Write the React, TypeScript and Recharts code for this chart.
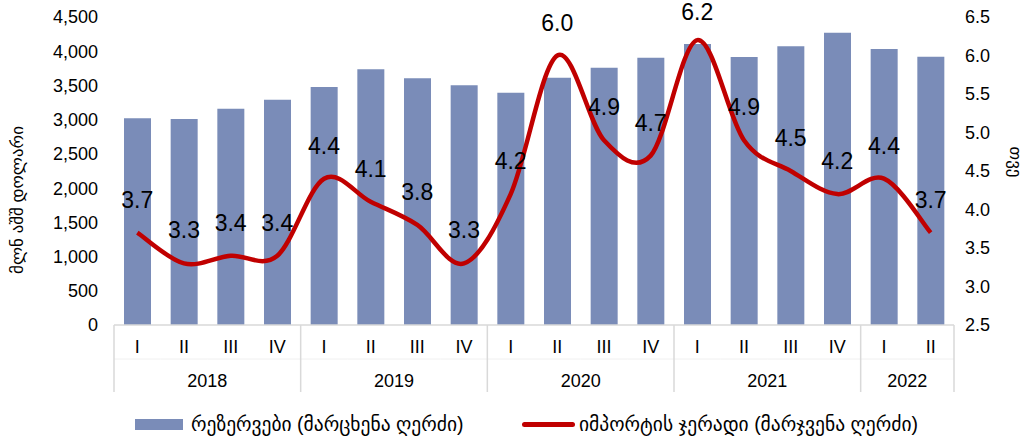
import React from 'react';
import { ComposedChart, Bar, Line, XAxis, YAxis, LabelList, Legend } from 'recharts';

const quarters = ['I', 'II', 'III', 'IV', 'I', 'II', 'III', 'IV', 'I', 'II', 'III', 'IV', 'I', 'II', 'III', 'IV', 'I', 'II'];
const years = ['2018', '2018', '2018', '2018', '2019', '2019', '2019', '2019', '2020', '2020', '2020', '2020', '2021', '2021', '2021', '2021', '2022', '2022'];
const reserves = [3020, 3010, 3160, 3292, 3478, 3736, 3604, 3502, 3394, 3614, 3760, 3906, 4106, 3916, 4072, 4271, 4033, 3920];
const importCover = [3.7, 3.3, 3.4, 3.4, 4.4, 4.1, 3.8, 3.3, 4.2, 6.0, 4.9, 4.7, 6.2, 4.9, 4.5, 4.2, 4.4, 3.7];
const leftTicks = [0, 500, 1000, 1500, 2000, 2500, 3000, 3500, 4000, 4500];
const rightTicks = [2.5, 3.0, 3.5, 4.0, 4.5, 5.0, 5.5, 6.0, 6.5];
const reservesName = 'რეზერვები (მარცხენა ღერძი)';
const importName = 'იმპორტის ჯერადი (მარჯვენა ღერძი)';
const leftAxisTitle = 'მლნ აშშ დოლარი';
const rightAxisTitle = 'თვე';

const data = quarters.map((q, i) => ({ q, year: years[i], reserves: reserves[i], imports: importCover[i] }));

const FONT = '"Liberation Sans", Arial, "DejaVu Sans", sans-serif';
const BAR_COLOR = '#7a8cb8';
const LINE_COLOR = '#c00000';
const GRID = '#d9d9d9';

const excelSmooth = (context: any) => {
  let pts: number[][] = [];
  return {
    areaStart() {},
    areaEnd() {},
    lineStart() {
      pts = [];
    },
    point(x: number, y: number) {
      pts.push([+x, +y]);
    },
    lineEnd() {
      const n = pts.length;
      if (!n) return;
      context.moveTo(pts[0][0], pts[0][1]);
      for (let i = 0; i < n - 1; i++) {
        const p0 = pts[Math.max(i - 1, 0)];
        const p1 = pts[i];
        const p2 = pts[i + 1];
        const p3 = pts[Math.min(i + 2, n - 1)];
        context.bezierCurveTo(
          p1[0] + (p2[0] - p0[0]) / 6,
          p1[1] + (p2[1] - p0[1]) / 6,
          p2[0] - (p3[0] - p1[0]) / 6,
          p2[1] - (p3[1] - p1[1]) / 6,
          p2[0],
          p2[1]
        );
      }
    },
  };
};

const renderTick = (props: any) => {
  const { x, y, payload } = props;
  const idx = payload?.index ?? props.index ?? 0;
  const half = payload?.offset ? payload.offset : 840 / 18 / 2;
  const yr = years[idx];
  const groupStart = years.indexOf(yr);
  const groupEnd = years.lastIndexOf(yr);
  const n = groupEnd - groupStart + 1;
  const pos = idx - groupStart;
  const mid = Math.floor((n - 1) / 2);
  const els: any[] = [];
  els.push(
    <text key="q" x={x} y={y + 28} textAnchor="middle" fontSize={18} fill="#000" fontFamily={FONT}>
      {quarters[idx]}
    </text>
  );
  els.push(<line key="h" x1={x - half} x2={x + half} y1={y + 34} y2={y + 34} stroke="#f0f0f0" strokeWidth={1} />);
  if (idx === groupStart) {
    els.push(<line key="s" x1={x - half} x2={x - half} y1={y} y2={y + 67} stroke={GRID} strokeWidth={1.5} />);
  }
  if (idx === years.length - 1) {
    els.push(<line key="e" x1={x + half} x2={x + half} y1={y} y2={y + 67} stroke={GRID} strokeWidth={1.5} />);
  }
  if (pos === mid) {
    const cx = x + ((n - 1) / 2 - mid) * 2 * half;
    els.push(
      <text key="y" x={cx} y={y + 62} textAnchor="middle" fontSize={18} fill="#000" fontFamily={FONT}>
        {yr}
      </text>
    );
  }
  return <g>{els}</g>;
};

const PointLabel = (props: any) => {
  const { x, y, width, value } = props;
  const cx = (x || 0) + (width || 0) / 2;
  const baseline = Math.max((y || 0) - 25, 20);
  return (
    <text x={cx} y={baseline} textAnchor="middle" fontSize={23} fill="#000" fontFamily={FONT}>
      {Number(value).toFixed(1)}
    </text>
  );
};

const LeftTitle = (props: any) => {
  const vb = props.viewBox || { x: 0 };
  const cx = (vb.x || 0) + 17;
  const cy = 200;
  return (
    <text x={cx} y={cy} transform={`rotate(-90 ${cx} ${cy})`} textAnchor="middle" dominantBaseline="central" fontSize={17} fill="#000" fontFamily={FONT}>
      {leftAxisTitle}
    </text>
  );
};

const RightTitle = () => {
  const cx = 1015;
  const cy = 162;
  return (
    <text x={cx} y={cy} transform={`rotate(90 ${cx} ${cy})`} textAnchor="middle" dominantBaseline="central" fontSize={17} fill="#000" fontFamily={FONT}>
      {rightAxisTitle}
    </text>
  );
};

const LegendContent = () => (
  <div style={{ position: 'relative', width: 1026, height: 31, fontFamily: FONT, fontSize: 19.5, color: '#000' }}>
    <div style={{ position: 'absolute', left: 135, top: 14, width: 48, height: 11, background: BAR_COLOR }} />
    <div style={{ position: 'absolute', left: 191, top: 7, lineHeight: '24px', whiteSpace: 'nowrap' }}>{reservesName}</div>
    <div style={{ position: 'absolute', left: 522, top: 17, width: 53, height: 5, borderRadius: 3, background: LINE_COLOR }} />
    <div style={{ position: 'absolute', left: 579, top: 7, lineHeight: '24px', whiteSpace: 'nowrap' }}>{importName}</div>
  </div>
);

export default function App() {
  return (
    <div style={{ position: 'absolute', left: 0, top: 0, width: 1026, height: 436, background: '#fff' }}>
      <ComposedChart width={1026} height={436} data={data} margin={{ top: 17, right: 0, bottom: 0, left: 0 }}>
        <XAxis
          dataKey="q"
          interval={0}
          height={80}
          tickLine={false}
          tickSize={0}
          tickMargin={0}
          axisLine={{ stroke: GRID, strokeWidth: 1.5 }}
          tick={renderTick}
        />
        <YAxis
          yAxisId="left"
          width={114}
          domain={[0, 4500]}
          ticks={leftTicks}
          axisLine={false}
          tickLine={false}
          tickSize={0}
          tickMargin={16}
          tickFormatter={(v: number) => v.toLocaleString('en-US')}
          tick={{ fontSize: 18, fill: '#000', fontFamily: FONT }}
          label={{ content: <LeftTitle /> } as any}
        />
        <YAxis
          yAxisId="right"
          orientation="right"
          width={72}
          domain={[2.5, 6.5]}
          ticks={rightTicks}
          axisLine={false}
          tickLine={false}
          tickSize={0}
          tickMargin={11}
          tickFormatter={(v: number) => v.toFixed(1)}
          tick={{ fontSize: 18, fill: '#000', fontFamily: FONT }}
          label={{ content: <RightTitle /> } as any}
        />
        <Bar yAxisId="left" dataKey="reserves" name={reservesName} fill={BAR_COLOR} barSize={27} isAnimationActive={false} />
        <Line
          yAxisId="right"
          dataKey="imports"
          name={importName}
          type={excelSmooth as any}
          stroke={LINE_COLOR}
          strokeWidth={4.5}
          dot={false}
          activeDot={false}
          isAnimationActive={false}
        >
          <LabelList dataKey="imports" content={<PointLabel />} />
        </Line>
        <Legend verticalAlign="bottom" height={31} content={<LegendContent />} wrapperStyle={{ left: 0, width: 1026, height: 31 }} />
      </ComposedChart>
    </div>
  );
}
